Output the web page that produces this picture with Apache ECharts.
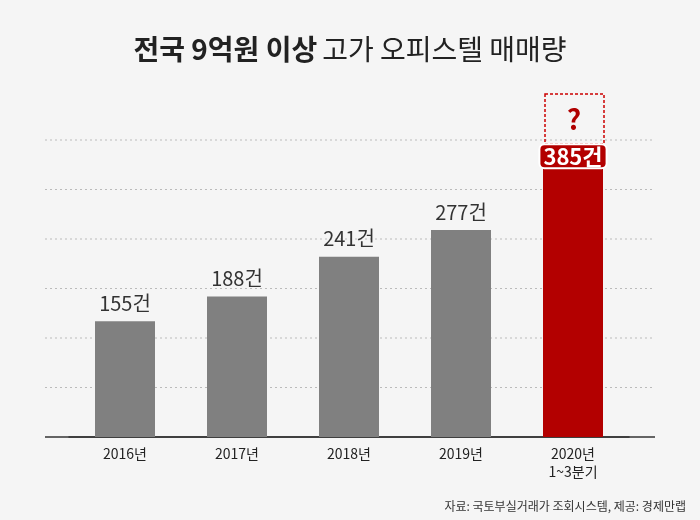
<!DOCTYPE html><html><head><meta charset="utf-8">
<script src="https://cdn.jsdelivr.net/npm/echarts@6/dist/echarts.min.js"></script>
<style>html,body{margin:0;background:#f5f5f5}#c{width:700px;height:520px}</style></head><body><div id="c"></div>
<script>
const categories=['2016년','2017년','2018년','2019년','2020년\n1~3분기'];
const values=[155,188,241,277,385];
const labels=['155건','188건','241건','277건','385건'];
const F='"Noto Sans CJK KR"';
const chart=echarts.init(document.getElementById('c'));
const gl=[];
for(let i=0;i<6;i++){const y=140+i*49.5;gl.push({type:'line',shape:{x1:45,y1:y,x2:655,y2:y},style:{stroke:'#bbb',lineDash:[2,3],lineWidth:1},z:0});}
chart.setOption({
backgroundColor:'#f5f5f5',
title:{left:'center',top:30,text:'{b|전국 9억원 이상} {n|고가 오피스텔 매매량}',textStyle:{rich:{b:{fontFamily:F,fontSize:28,fontWeight:'bold',color:'#222'},n:{fontFamily:F,fontSize:28,fontWeight:'normal',color:'#222'}}}},
grid:{left:69,right:71,top:138,bottom:83},
xAxis:{type:'category',data:categories,axisLine:{lineStyle:{color:'#333',width:1.5}},axisTick:{show:false},axisLabel:{fontFamily:F,fontSize:14,color:'#222',lineHeight:18,margin:8}},
yAxis:{type:'value',min:0,max:400,interval:400/6,splitLine:{show:false},axisLabel:{show:false},axisLine:{show:false}},
graphic:gl.concat([
{type:'line',shape:{x1:45,y1:437,x2:655,y2:437},style:{stroke:'#333',lineWidth:1.5}},
{type:'rect',shape:{x:545,y:94,width:59,height:50},style:{fill:'none',stroke:'#c00',lineDash:[3,2],lineWidth:1.5}},
{type:'text',x:574,y:119,style:{text:'?',fontFamily:F,fontSize:28,fontWeight:'bold',fill:'#b00000',align:'center',verticalAlign:'middle'}},
{type:'text',right:14,bottom:8,style:{text:'자료: 국토부실거래가 조회시스템, 제공: 경제만랩',fontFamily:F,fontSize:12,fill:'#333'}}
]),
series:[{type:'bar',barWidth:60,data:values.map((v,i)=>i===4?{value:v,itemStyle:{color:'#b30000'},label:{position:'insideTop',offset:[0,-12],color:'#fff',fontWeight:'bold',fontSize:22,backgroundColor:'#b30000',borderColor:'#fff',borderWidth:2,borderRadius:4,padding:[0,3]}}:v),
itemStyle:{color:'#808080'},
label:{show:true,position:'top',distance:8,fontFamily:F,fontSize:20,color:'#333',formatter:p=>labels[p.dataIndex]}}]
});
</script></body></html>
